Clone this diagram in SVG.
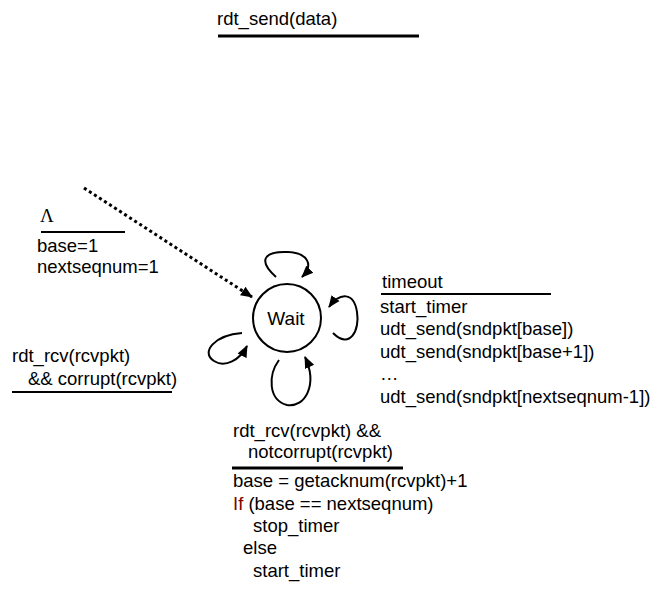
<svg xmlns="http://www.w3.org/2000/svg" width="663" height="594" viewBox="0 0 663 594">
<style>
text{font-family:"Liberation Sans",Arial,sans-serif;font-size:18.5px;fill:#000}
.bar{stroke:#000;fill:none}
.loop{stroke:#000;stroke-width:2;fill:none;marker-end:url(#ah)}
.red{fill:#800000}
</style>
<defs>
<marker id="ah" markerUnits="userSpaceOnUse" markerWidth="12" markerHeight="12" viewBox="0 0 12 12" refX="11" refY="6" orient="auto">
<path d="M0,1 L12,6 L0,11 Z" fill="#000"/>
</marker>
</defs>
<rect width="663" height="594" fill="#fff"/>
<g id="connectors">
<path d="M84,188 L252,297" stroke="#000" stroke-width="3" stroke-dasharray="3,3" fill="none" marker-end="url(#ah)"/>
<path class="loop" d="M276,277 C255,258 268,251 288,252 C308,253 314,265 302,277"/>
<path class="loop" d="M333,333 C350,350 360,330 357,312 C354,292 340,292 329,307"/>
<path class="loop" d="M242,333 C215,335 200,352 214,361 C225,368 240,360 247,346"/>
<path class="loop" d="M279,360 C268,375 268,400 287,405 C305,408 318,385 305,357"/>
</g>
<g id="init">
<text x="40" y="222" style="font-family:'Liberation Serif','Times New Roman',serif;font-size:19px">Λ</text>
<line class="bar" x1="41" y1="232" x2="125" y2="232" stroke-width="2"/>
<text x="37" y="252">base=1</text>
<text x="37" y="273">nextseqnum=1</text>
</g>
<g id="wait">
<circle cx="287" cy="318" r="34" fill="#fff" stroke="#000" stroke-width="2"/>
<text x="286" y="325" text-anchor="middle" style="font-size:19px">Wait</text>
</g>
<g id="send-label">
<text x="217" y="25">rdt_send(data)</text>
<line class="bar" x1="218" y1="36" x2="419" y2="36" stroke-width="3"/>
</g>
<g id="timeout-label">
<text x="382" y="288">timeout</text>
<line class="bar" x1="381" y1="294" x2="551" y2="294" stroke-width="2"/>
<text x="380" y="313">start_timer</text>
<text x="380" y="335">udt_send(sndpkt[base])</text>
<text x="380" y="358">udt_send(sndpkt[base+1])</text>
<text x="380" y="380">…</text>
<text x="380" y="403">udt_send(sndpkt[nextseqnum-1])</text>
</g>
<g id="corrupt-label">
<text x="12" y="362">rdt_rcv(rcvpkt)</text>
<text x="28" y="385">&amp;&amp; corrupt(rcvpkt)</text>
<line class="bar" x1="12" y1="392" x2="172" y2="392" stroke-width="2"/>
</g>
<g id="ack-label">
<text x="233" y="437">rdt_rcv(rcvpkt) &amp;&amp;</text>
<text x="248" y="458">notcorrupt(rcvpkt)</text>
<line class="bar" x1="232" y1="468" x2="403" y2="468" stroke-width="3"/>
<text x="233" y="487">base = getacknum(rcvpkt)+1</text>
<text x="233" y="510"><tspan class="red">If</tspan> (base == nextseqnum)</text>
<text x="253" y="532">stop_timer</text>
<text x="243" y="554">else</text>
<text x="253" y="577">start_timer</text>
</g>
</svg>
